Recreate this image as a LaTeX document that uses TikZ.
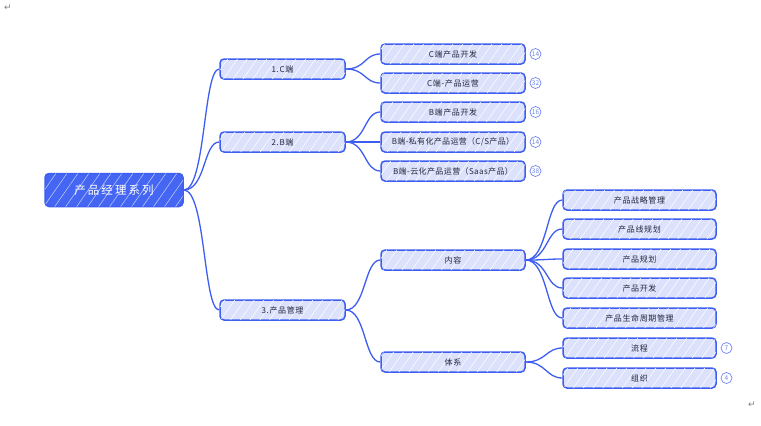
\documentclass[tikz,border=0pt]{standalone}
\usepackage{fontspec}
\setmainfont{Noto Sans CJK SC}[LetterSpace=8]
\newfontfamily\djv{DejaVu Sans}
\usetikzlibrary{patterns.meta}
\definecolor{lineblue}{HTML}{3D5EF0}
\definecolor{boxfill}{HTML}{DCE2FB}
\definecolor{rootfill}{HTML}{4466F2}
\definecolor{txt}{HTML}{23263F}
\definecolor{badge}{HTML}{6F86F2}
\begin{document}
\begin{tikzpicture}[x=1pt,y=-1pt,
  box/.style={draw=lineblue,line width=1.5pt,fill=boxfill,rounded corners=4pt,
    minimum height=20pt,inner sep=0pt,font=\fontsize{8}{9}\selectfont,text=txt,
    postaction={pattern={Lines[angle=55,distance=8pt,line width=0.5pt]},pattern color=white}},
  lone/.style={box,minimum width=125pt},
  ltwo/.style={box,minimum width=144pt},
  lthree/.style={box,minimum width=153pt},
  rootbox/.style={draw=lineblue,line width=1.5pt,fill=rootfill,rounded corners=4pt,
    minimum width=138pt,minimum height=33pt,inner sep=0pt,text=white,
    font=\fontsize{11.5}{13}\selectfont\addfontfeature{LetterSpace=18},
    postaction={pattern={Lines[angle=55,distance=9pt,line width=0.5pt]},pattern color=white!70!rootfill}},
  edge/.style={draw=lineblue,line width=1.3pt},
  badgec/.style={circle,draw=badge,line width=0.7pt,fill=white,minimum size=11pt,
    inner sep=0pt,text=badge,font=\fontsize{6.5}{7}\selectfont\addfontfeature{LetterSpace=0}},
  parmark/.style={text=gray,font=\djv\fontsize{9}{10}\selectfont}
]
\useasboundingbox (0,0) rectangle (761,426);
\node[parmark] (m1) at (8,8) {↵};
\node[parmark] (m2) at (752,405) {↵};

\node[rootbox] (root) at (114,190) {产品经理系列};

\node[lone] (c) at (282.5,69) {1.C端};
\node[lone] (b) at (282.5,142) {2.B端};
\node[lone] (p) at (282.5,310) {3.产品管理};

\node[ltwo] (c1) at (453,54) {C端产品开发};
\node[ltwo] (c2) at (453,83) {C端-产品运营};
\node[ltwo] (b1) at (453,112) {B端产品开发};
\node[ltwo] (b2) at (453,142) {\addfontfeature{LetterSpace=4}B端-私有化产品运营（C/S产品）};
\node[ltwo] (b3) at (453,171) {\addfontfeature{LetterSpace=5}B端-云化产品运营（Saas产品）};
\node[ltwo] (n) at (453,260) {内容};
\node[ltwo] (t) at (453,362) {体系};

\node[lthree] (n1) at (639.5,200) {产品战略管理};
\node[lthree] (n2) at (639.5,229) {产品线规划};
\node[lthree] (n3) at (639.5,259) {产品规划};
\node[lthree] (n4) at (639.5,288) {产品开发};
\node[lthree] (n5) at (639.5,318) {产品生命周期管理};
\node[lthree] (t1) at (639.5,348) {流程};
\node[lthree] (t2) at (639.5,378) {组织};

\node[badgec] (bc1) at (535.5,54) {14};
\node[badgec] (bc2) at (535.5,83) {32};
\node[badgec] (bb1) at (535.5,112) {16};
\node[badgec] (bb2) at (535.5,142) {14};
\node[badgec] (bb3) at (535.5,171) {38};
\node[badgec] (bt1) at (726.5,348) {7};
\node[badgec] (bt2) at (726.5,378) {4};

\foreach \d in {c,b,p}
  \draw[edge] (root.east) .. controls +(22,0) and +(-16,0) .. (\d.west);
\foreach \d in {c1,c2}
  \draw[edge] (c.east) .. controls +(20,0) and +(-16,0) .. (\d.west);
\foreach \d in {b1,b2,b3}
  \draw[edge] (b.east) .. controls +(20,0) and +(-16,0) .. (\d.west);
\foreach \d in {n,t}
  \draw[edge] (p.east) .. controls +(20,0) and +(-16,0) .. (\d.west);
\foreach \d in {n1,n2,n3,n4,n5}
  \draw[edge] (n.east) .. controls +(22,0) and +(-16,0) .. (\d.west);
\foreach \d in {t1,t2}
  \draw[edge] (t.east) .. controls +(20,0) and +(-16,0) .. (\d.west);
\end{tikzpicture}
\end{document}
